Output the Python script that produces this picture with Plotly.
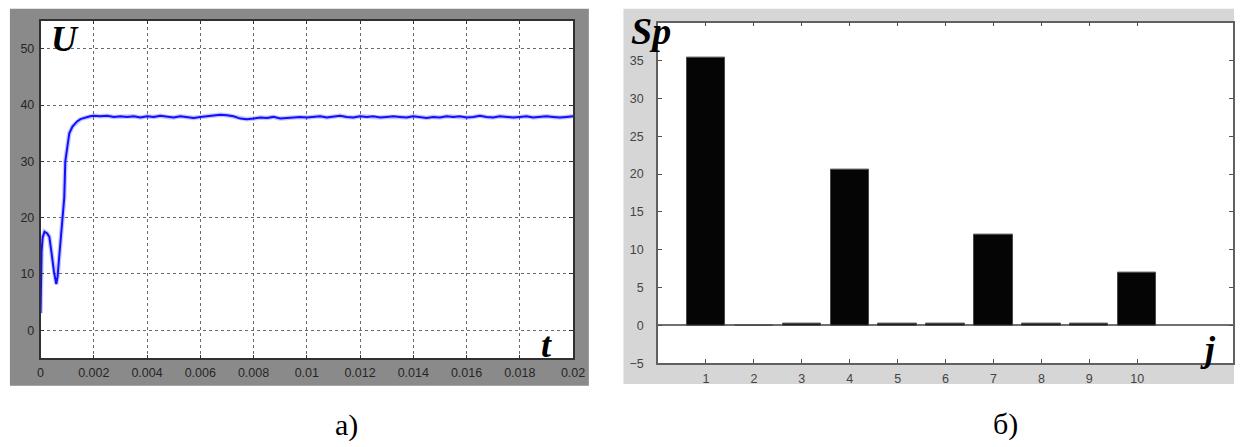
import plotly.graph_objects as go

W, H = 1246, 447

# --- panel a): voltage transient U(t) ---
t_start = [0, 0.00001, 0.00004, 0.00008, 0.00015, 0.00025, 0.00033, 0.00042,
           0.0005, 0.00059, 0.00064, 0.0007, 0.00076, 0.00082, 0.00089, 0.00093,
           0.001, 0.00108, 0.0012, 0.00137, 0.0015, 0.0017, 0.00186, 0.002]
u_start = [3, 10, 14, 16.5, 17.5, 17.2, 16.6, 13.5,
           10.5, 8.2, 9.5, 13, 16.5, 20, 23.5, 30,
           32.5, 35, 36.2, 37.1, 37.5, 37.8, 38.0, 38.1]

t_steady = [0.00225, 0.0025, 0.00275, 0.003, 0.00325, 0.0035, 0.00375, 0.004,
            0.00425, 0.0045, 0.00475, 0.005, 0.00525, 0.0055, 0.00575, 0.006,
            0.00625, 0.0065, 0.00675, 0.007, 0.00725, 0.0075, 0.00775, 0.008,
            0.00825, 0.0085, 0.00875, 0.009, 0.00925, 0.0095, 0.00975, 0.01,
            0.01025, 0.0105, 0.01075, 0.011, 0.01125, 0.0115, 0.01175, 0.012,
            0.01225, 0.0125, 0.01275, 0.013, 0.01325, 0.0135, 0.01375, 0.014,
            0.01425, 0.0145, 0.01475, 0.015, 0.01525, 0.0155, 0.01575, 0.016,
            0.01625, 0.0165, 0.01675, 0.017, 0.01725, 0.0175, 0.01775, 0.018,
            0.01825, 0.0185, 0.01875, 0.019, 0.01925, 0.0195, 0.01975, 0.02]
u_steady = [38.0, 38.1, 37.9, 38.0, 37.9, 38.0, 37.8, 38.0,
            37.9, 38.1, 37.9, 37.8, 38.0, 37.9, 37.7, 37.9,
            38.0, 38.2, 38.3, 38.2, 38.0, 37.6, 37.5, 37.6,
            37.8, 37.7, 37.9, 37.6, 37.7, 37.8, 37.9, 37.8,
            37.9, 38.0, 37.8, 37.9, 38.1, 37.9, 37.8, 38.0,
            37.9, 38.0, 37.8, 37.9, 38.0, 37.9, 37.8, 38.0,
            37.9, 37.7, 37.9, 37.8, 38.0, 37.9, 38.0, 37.8,
            37.9, 38.1, 37.9, 37.8, 38.0, 37.9, 37.8, 37.9,
            38.0, 37.8, 37.9, 38.0, 37.9, 37.8, 37.9, 38.0]

t_ticks = [0, 0.002, 0.004, 0.006, 0.008, 0.01, 0.012, 0.014, 0.016, 0.018, 0.02]
t_labels = ["0", "0.002", "0.004", "0.006", "0.008", "0.01", "0.012",
            "0.014", "0.016", "0.018", "0.02"]
u_ticks = [0, 10, 20, 30, 40, 50]

# --- panel б): harmonic spectrum Sp(j) ---
harmonic = [1, 2, 3, 4, 5, 6, 7, 8, 9, 10]
sp_value = [35.4, 0.0, 0.25, 20.6, 0.2, 0.2, 12.0, 0.2, 0.2, 7.0]
sp_ticks = [-5, 0, 5, 10, 15, 20, 25, 30, 35]


def px(x):
    return x / W


def py(y):
    return 1 - y / H


t_all = t_start + t_steady
u_all = u_start + u_steady

fig = go.Figure()

# soft halo under the scope trace
fig.add_trace(go.Scatter(x=t_all, y=u_all, mode="lines",
                         line=dict(color="rgba(90,90,255,0.35)", width=4.5),
                         xaxis="x", yaxis="y", hoverinfo="skip"))
fig.add_trace(go.Scatter(x=t_all, y=u_all, mode="lines",
                         line=dict(color="#1010ff", width=2),
                         xaxis="x", yaxis="y"))

fig.add_trace(go.Bar(x=harmonic, y=sp_value, width=0.8,
                     marker=dict(color="#050505",
                                 line=dict(color="#4a4a4a", width=1)),
                     xaxis="x2", yaxis="y2"))

tick_font = dict(family="Liberation Sans Narrow, Liberation Sans, Arial",
                 size=12.5, color="#262626")

# plot-area pixel boxes
A = dict(l=38, r=577, t=21, b=364)
B = dict(l=663, r=1245, t=23, b=369)

fig.update_layout(
    width=W, height=H,
    margin=dict(l=0, r=0, t=0, b=0),
    paper_bgcolor="white",
    plot_bgcolor="white",
    showlegend=False,
    bargap=0,
    xaxis=dict(domain=[px(A["l"]), px(A["r"])], range=[0, 0.02],
               tickvals=t_ticks, ticktext=t_labels, tickfont=tick_font,
               showgrid=True, gridcolor="#6a6a6a", griddash="dot", gridwidth=1.2,
               zeroline=False, showline=True, linecolor="#303030", linewidth=1.5,
               mirror="allticks", ticks="inside", ticklen=4, tickcolor="#303030",
               ticklabelstandoff=2, anchor="y"),
    yaxis=dict(domain=[py(A["b"]), py(A["t"])], range=[-5, 55],
               tickvals=u_ticks, tickfont=tick_font,
               showgrid=True, gridcolor="#6a6a6a", griddash="dot", gridwidth=1.2,
               zeroline=False, showline=True, linecolor="#303030", linewidth=1.5,
               mirror="allticks", ticks="inside", ticklen=4, tickcolor="#303030",
               ticklabelstandoff=2, anchor="x"),
    xaxis2=dict(domain=[px(B["l"]), px(B["r"])], range=[0, 12],
                tickvals=harmonic, tickfont=dict(tick_font, color="#444"),
                showgrid=False, zeroline=False, showline=True,
                linecolor="#606060", linewidth=1.5,
                mirror="allticks", ticks="inside", ticklen=4, tickcolor="#505050",
                ticklabelstandoff=3, anchor="y2"),
    yaxis2=dict(domain=[py(B["b"]), py(B["t"])], range=[-5, 40],
                tickvals=sp_ticks, tickfont=dict(tick_font, color="#444"),
                showgrid=False, zeroline=True, zerolinecolor="#707070",
                zerolinewidth=1.5, showline=True,
                linecolor="#606060", linewidth=1.5,
                mirror="allticks", ticks="inside", ticklen=4, tickcolor="#505050",
                ticklabelstandoff=10, anchor="x2"),
)

# window frames around each panel, with white plot areas on top
frames = [
    dict(x0=7, x1=593, y0=9, y1=392, color="#8a8a8a"),
    dict(x0=628, x1=1246, y0=9, y1=390, color="#d6d6d6"),
    dict(x0=A["l"], x1=A["r"], y0=A["t"], y1=A["b"], color="white"),
    dict(x0=B["l"], x1=B["r"], y0=B["t"], y1=B["b"], color="white"),
]
for f in frames:
    fig.add_shape(type="rect", xref="paper", yref="paper", layer="below",
                  x0=px(f["x0"]), x1=px(f["x1"]), y0=py(f["y1"]), y1=py(f["y0"]),
                  fillcolor=f["color"], line=dict(width=0))

sym_font = dict(family="Liberation Serif, Times New Roman, serif", size=36,
                color="black", weight="bold", style="italic")
cap_font = dict(family="Liberation Serif, Times New Roman, serif", size=30,
                color="black")

labels = [
    ("U", 63, 40, sym_font),
    ("t", 550, 350, sym_font),
    ("Sp", 656, 32, dict(sym_font, size=38)),
    ("j", 1220, 355, sym_font),
    ("а)", 348, 432, cap_font),
    ("б)", 1015, 431, cap_font),
]
for text, x, y, font in labels:
    fig.add_annotation(text=text, x=px(x), y=py(y), xref="paper", yref="paper",
                       xanchor="center", yanchor="middle", showarrow=False,
                       font=font)

fig.write_html("out.html")
